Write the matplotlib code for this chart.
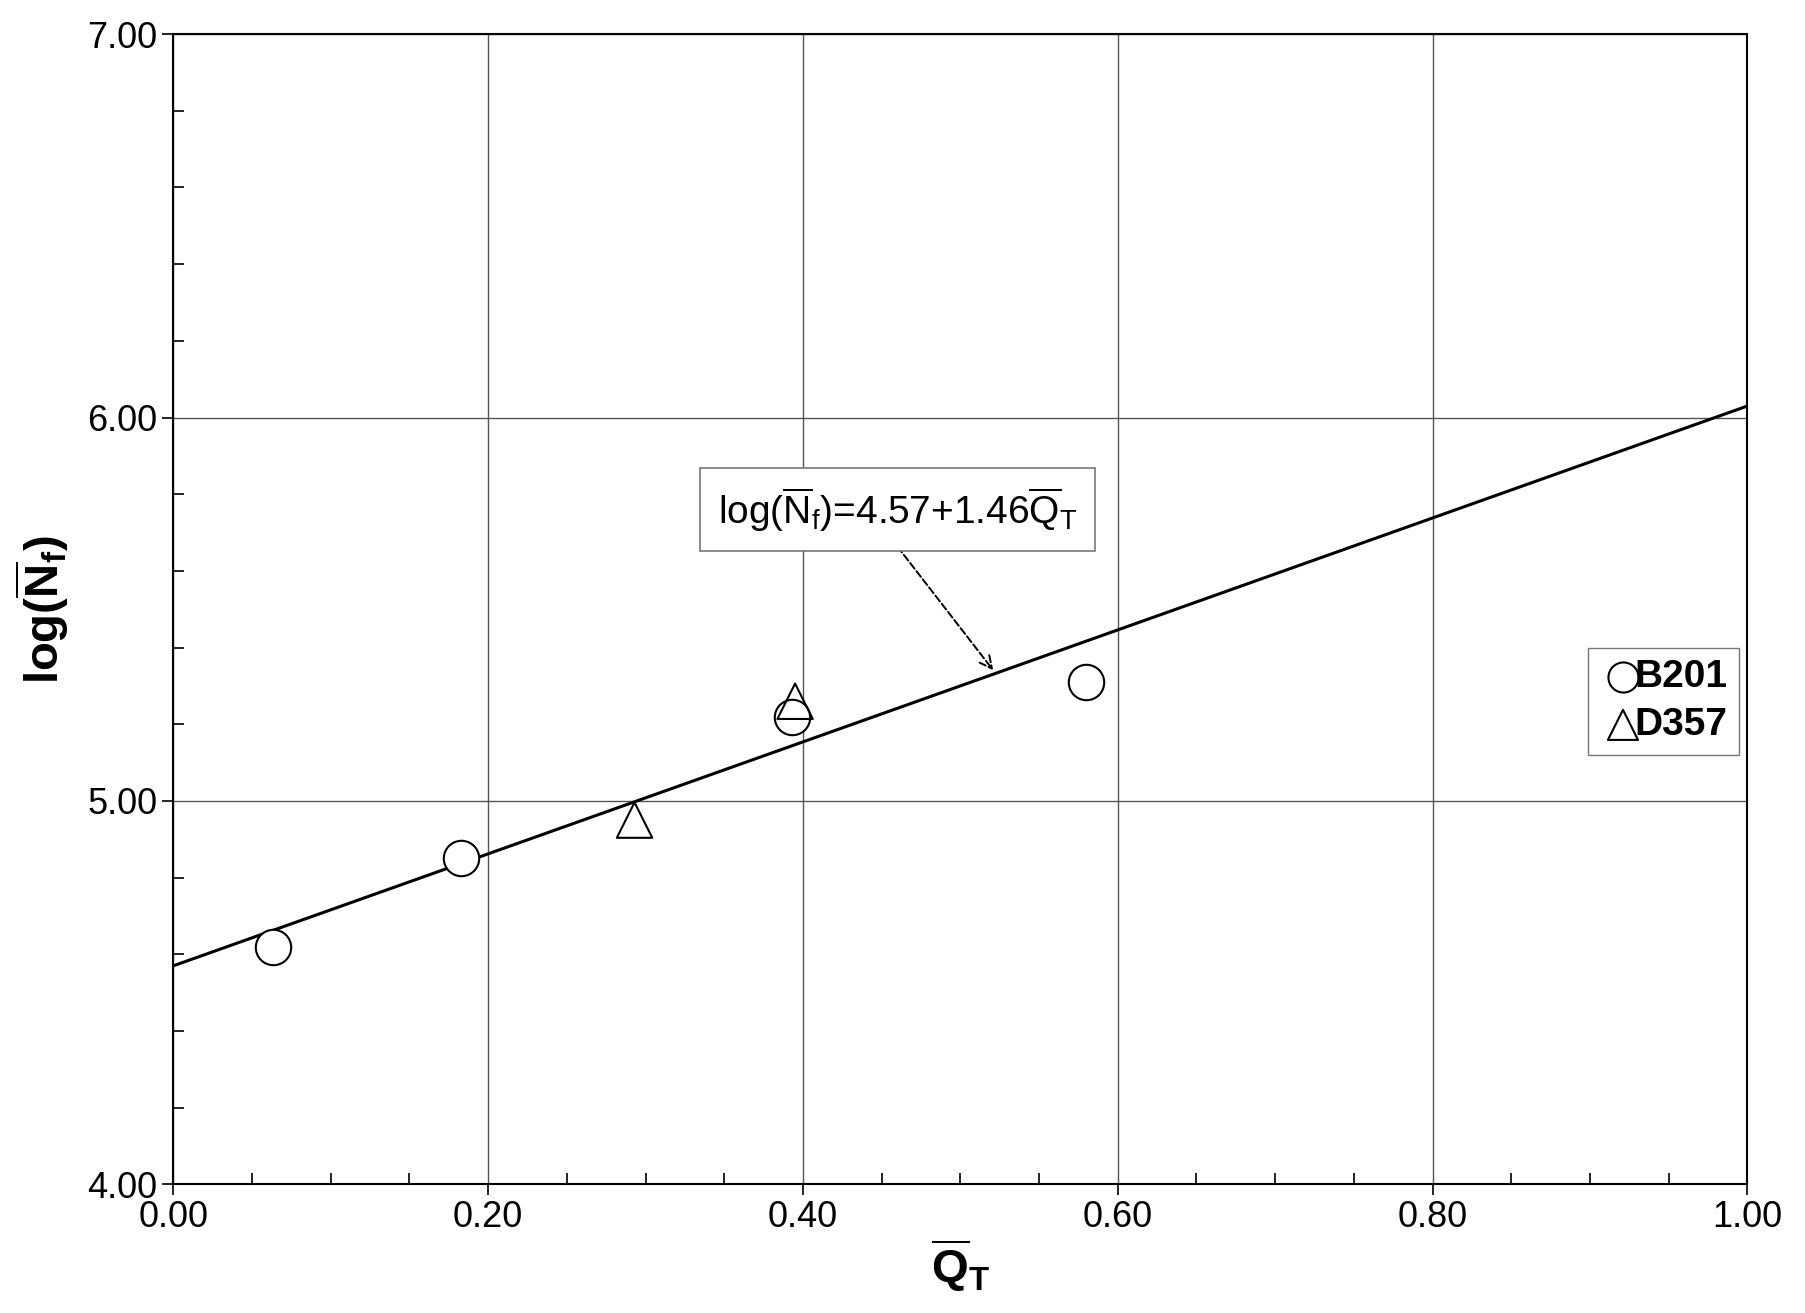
import matplotlib
matplotlib.use("Agg")
import matplotlib.pyplot as plt
import numpy as np
from matplotlib.ticker import MultipleLocator

plt.rcParams['font.family'] = ['Liberation Sans', 'DejaVu Sans']
plt.rcParams['mathtext.fontset'] = 'custom'
plt.rcParams['mathtext.rm'] = 'Liberation Sans'
plt.rcParams['mathtext.bf'] = 'Liberation Sans:bold'
plt.rcParams['mathtext.it'] = 'Liberation Sans'

b201_x = [0.063, 0.183, 0.393, 0.580]
b201_y = [4.62, 4.85, 5.22, 5.31]
d357_x = [0.293, 0.395]
d357_y = [4.95, 5.26]
intercept, slope = 4.57, 1.46

fig = plt.figure(figsize=(18.06, 13.13), dpi=100)
ax = fig.add_axes([0.096, 0.098, 0.8715, 0.876])
ax.set_xlim(0, 1); ax.set_ylim(4, 7)
ax.xaxis.set_major_locator(MultipleLocator(0.2))
ax.xaxis.set_minor_locator(MultipleLocator(0.05))
ax.yaxis.set_major_locator(MultipleLocator(1.0))
ax.yaxis.set_minor_locator(MultipleLocator(0.2))
ax.xaxis.set_major_formatter(matplotlib.ticker.FormatStrFormatter('%.2f'))
ax.yaxis.set_major_formatter(matplotlib.ticker.FormatStrFormatter('%.2f'))
ax.grid(True, which='major', color='#555555', lw=1.0)
ax.tick_params(which='major', direction='out', length=8, labelsize=26, width=1.2)
ax.tick_params(which='minor', direction='in', length=8, width=1.2)
for s in ax.spines.values():
    s.set_linewidth(1.5)

xl = np.array([0, 1.0])
ax.plot(xl, intercept + slope*xl, color='black', lw=2.2, zorder=3)
ax.scatter(b201_x, b201_y, s=650, facecolors='white', edgecolors='black', linewidths=1.5, marker='o', zorder=4, label='B201')
ax.scatter(d357_x, d357_y, s=650, facecolors='none', edgecolors='black', linewidths=1.5, marker='^', zorder=5, label='D357')

ax.text(0.46, 5.76, r'$\mathrm{log(\overline{N}_f)}$=4.57+1.46$\mathrm{\overline{Q}_T}$',
        fontsize=28, ha='center', va='center', zorder=6,
        bbox=dict(boxstyle='square,pad=0.45', fc='white', ec='#777777', lw=1.2))
ax.annotate('', xy=(0.522, 5.335), xytext=(0.455, 5.69),
            arrowprops=dict(arrowstyle='->', linestyle='--', color='black', lw=1.4, mutation_scale=22))

leg = ax.legend(loc='center right', bbox_to_anchor=(0.995, 0.42),
                prop={'weight': 'bold', 'size': 28}, frameon=True, fancybox=False,
                edgecolor='#555555', handletextpad=-0.3, borderpad=0.3, borderaxespad=0,
                markerscale=0.85, labelspacing=0.3, handlelength=1.2)

ax.set_xlabel(r'$\mathbf{\overline{Q}_T}$', fontsize=34, labelpad=2)
ax.set_ylabel(r'$\mathbf{log(\overline{N}_f)}$', fontsize=34, labelpad=12)
fig.savefig('out.png', dpi=100, facecolor='white')
